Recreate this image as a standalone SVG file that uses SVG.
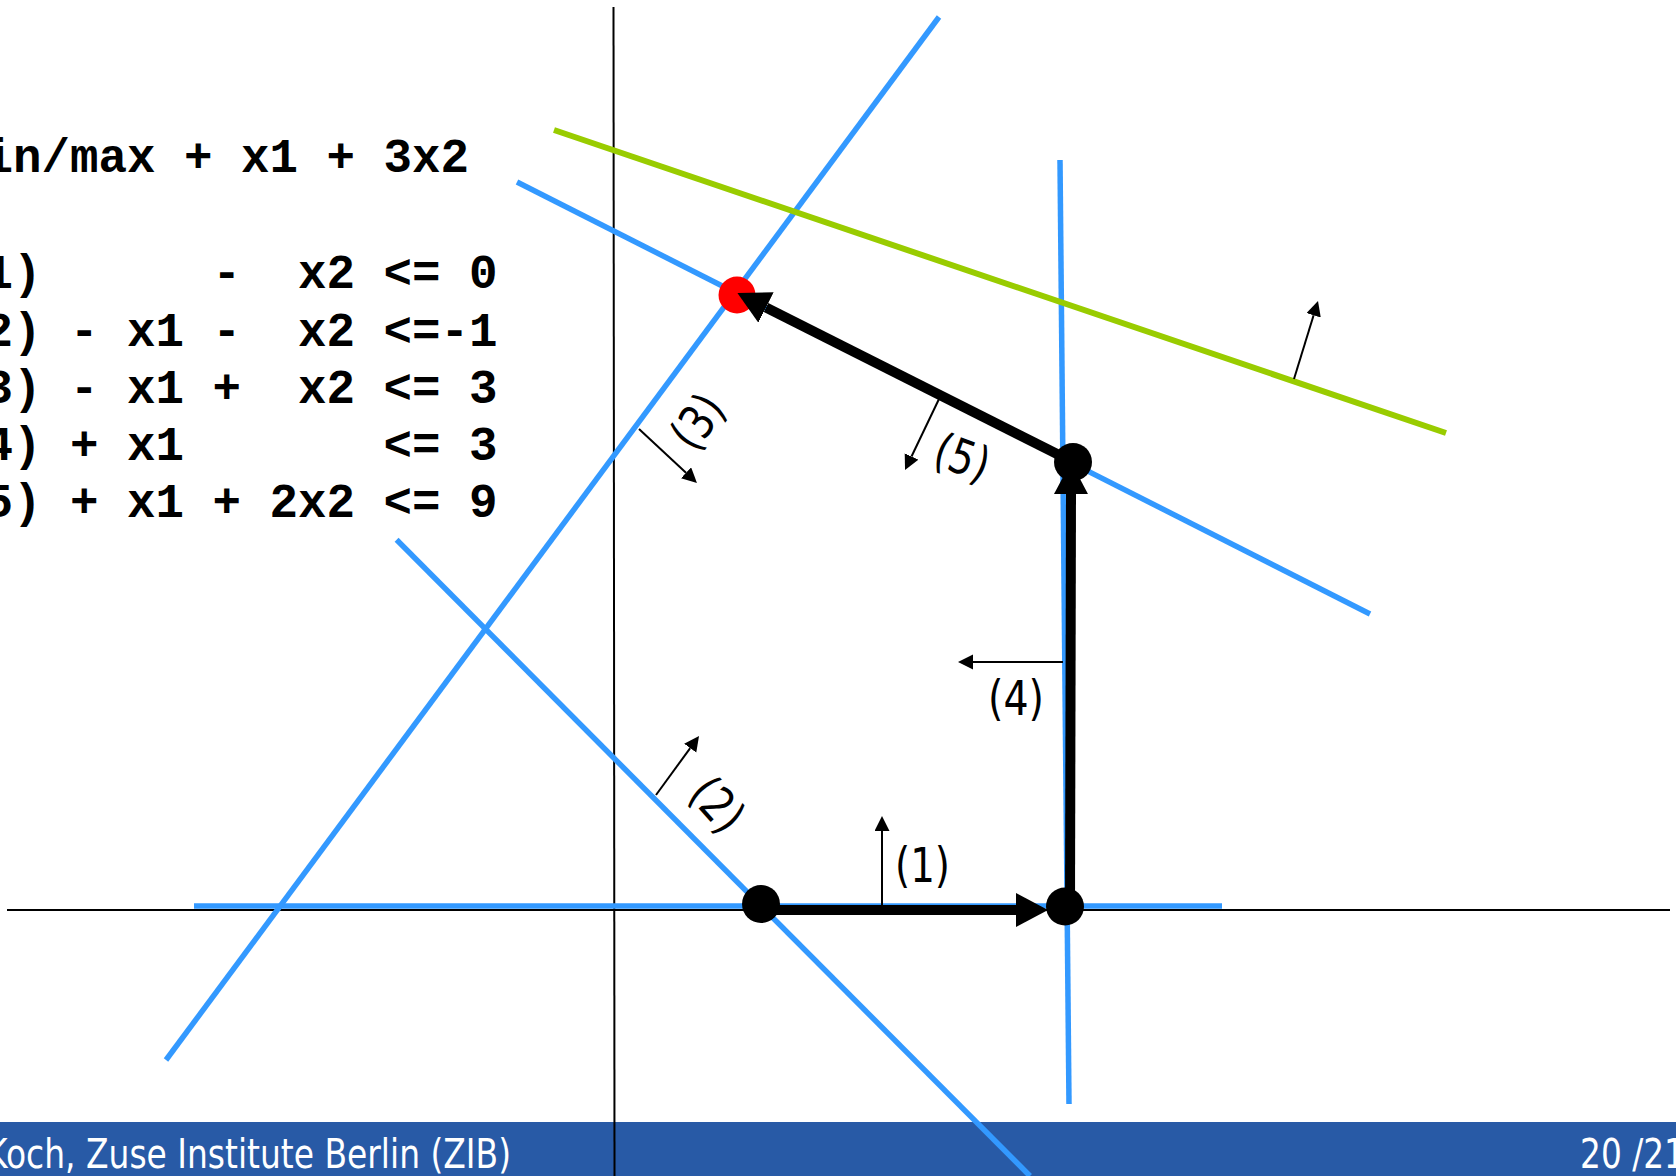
<svg xmlns="http://www.w3.org/2000/svg" width="1676" height="1176" viewBox="0 0 1676 1176">
  <style>
    .bl { stroke: #3399ff; stroke-width: 5.5; fill: none; }
    .gr { stroke: #99cc00; stroke-width: 6; fill: none; }
    .ax { stroke: #000; stroke-width: 2; fill: none; }
    .th { stroke: #000; stroke-width: 10; fill: none; }
    .tn { stroke: #000; stroke-width: 2; fill: none; }
    .eq { font-family: "Liberation Mono", "Courier New", monospace; font-weight: bold; font-size: 47.5px; fill: #000; white-space: pre; }
    .lb { font-family: "DejaVu Sans", Verdana, sans-serif; font-size: 48px; fill: #000; }
    .ft { font-family: "DejaVu Sans", Verdana, sans-serif; font-size: 40px; fill: #fff; }
  </style>
  <defs>
    <marker id="big" markerUnits="userSpaceOnUse" markerWidth="34" markerHeight="36" refX="0" refY="17" orient="auto" viewBox="0 0 34 36">
      <path d="M0,0 L32,17 L0,34 z" fill="#000"/>
    </marker>
    <marker id="sm" markerUnits="userSpaceOnUse" markerWidth="16" markerHeight="16" refX="0" refY="7.5" orient="auto" viewBox="0 0 16 16">
      <path d="M0,0 L15,7.5 L0,15 z" fill="#000"/>
    </marker>
  </defs>
  <rect width="1676" height="1176" fill="#fff"/>

  <g id="footer">
    <rect x="0" y="1122" width="1676" height="54" fill="#285aa6"/>
    <text class="ft" x="-14" y="1168" textLength="525" lengthAdjust="spacingAndGlyphs">Koch, Zuse Institute Berlin (ZIB)</text>
    <text class="ft" x="1580" y="1168" textLength="105" lengthAdjust="spacingAndGlyphs">20 /21</text>
  </g>

  <g id="equations">
    <text class="eq" x="-44" y="172">min/max + x1 + 3x2</text>
    <text class="eq" x="-44" y="288">(1)      -  x2 &lt;= 0</text>
    <text class="eq" x="-44" y="345.5">(2) - x1 -  x2 &lt;=-1</text>
    <text class="eq" x="-44" y="402.5">(3) - x1 +  x2 &lt;= 3</text>
    <text class="eq" x="-44" y="459.5">(4) + x1       &lt;= 3</text>
    <text class="eq" x="-44" y="517">(5) + x1 + 2x2 &lt;= 9</text>
  </g>

  <g id="axes">
    <line class="ax" x1="7" y1="910" x2="1670" y2="910"/>
    <line class="ax" x1="613.5" y1="7" x2="614.5" y2="1176"/>
  </g>

  <g id="constraint-lines">
    <line id="c1" class="bl" x1="194" y1="906" x2="1222" y2="906"/>
    <line id="c2" class="bl" x1="396.6" y1="539.8" x2="1030" y2="1176"/>
    <line id="c3" class="bl" x1="939" y1="17" x2="166" y2="1060"/>
    <line id="c4" class="bl" x1="1060" y1="160" x2="1069" y2="1104"/>
    <line id="c5" class="bl" x1="517" y1="182" x2="1370" y2="614"/>
    <line id="objective" class="gr" x1="554" y1="130" x2="1446" y2="433"/>
  </g>

  <g id="normals">
    <line class="tn" x1="882" y1="905" x2="882" y2="831" marker-end="url(#sm)"/>
    <line class="tn" x1="656" y1="795" x2="690.2" y2="748.1" marker-end="url(#sm)"/>
    <line class="tn" x1="639" y1="429" x2="686" y2="472.8" marker-end="url(#sm)"/>
    <line class="tn" x1="1063" y1="662" x2="973" y2="662" marker-end="url(#sm)"/>
    <line class="tn" x1="939" y1="399" x2="911.5" y2="456.5" marker-end="url(#sm)"/>
    <line class="tn" x1="1294" y1="379" x2="1313.6" y2="315.3" marker-end="url(#sm)"/>
  </g>

  <g id="labels">
    <text class="lb" x="895" y="882" textLength="55" lengthAdjust="spacingAndGlyphs">(1)</text>
    <text class="lb" transform="translate(717,805) rotate(48)" x="-27.5" y="16" textLength="55" lengthAdjust="spacingAndGlyphs">(2)</text>
    <text class="lb" transform="translate(698,422) rotate(-53.5)" x="-27.5" y="16" textLength="55" lengthAdjust="spacingAndGlyphs">(3)</text>
    <text class="lb" x="988" y="715" textLength="56" lengthAdjust="spacingAndGlyphs">(4)</text>
    <text class="lb" transform="translate(962,458) rotate(20)" x="-27.5" y="16" textLength="55" lengthAdjust="spacingAndGlyphs">(5)</text>
  </g>

  <g id="vertices">
    <circle id="v1" cx="761" cy="904" r="19" fill="#000"/>
    <circle id="v2" cx="1065" cy="906.5" r="19" fill="#000"/>
    <circle id="v3" cx="1073" cy="462" r="19" fill="#000"/>
    <circle id="v4" cx="737" cy="295" r="18.5" fill="#ff0000"/>
  </g>

  <g id="path-arrows">
    <line class="th" x1="761" y1="910" x2="1016" y2="910" marker-end="url(#big)"/>
    <line class="th" x1="1070" y1="906" x2="1071" y2="494" marker-end="url(#big)"/>
    <line class="th" x1="1073" y1="462" x2="766" y2="307.5" marker-end="url(#big)"/>
  </g>
</svg>
